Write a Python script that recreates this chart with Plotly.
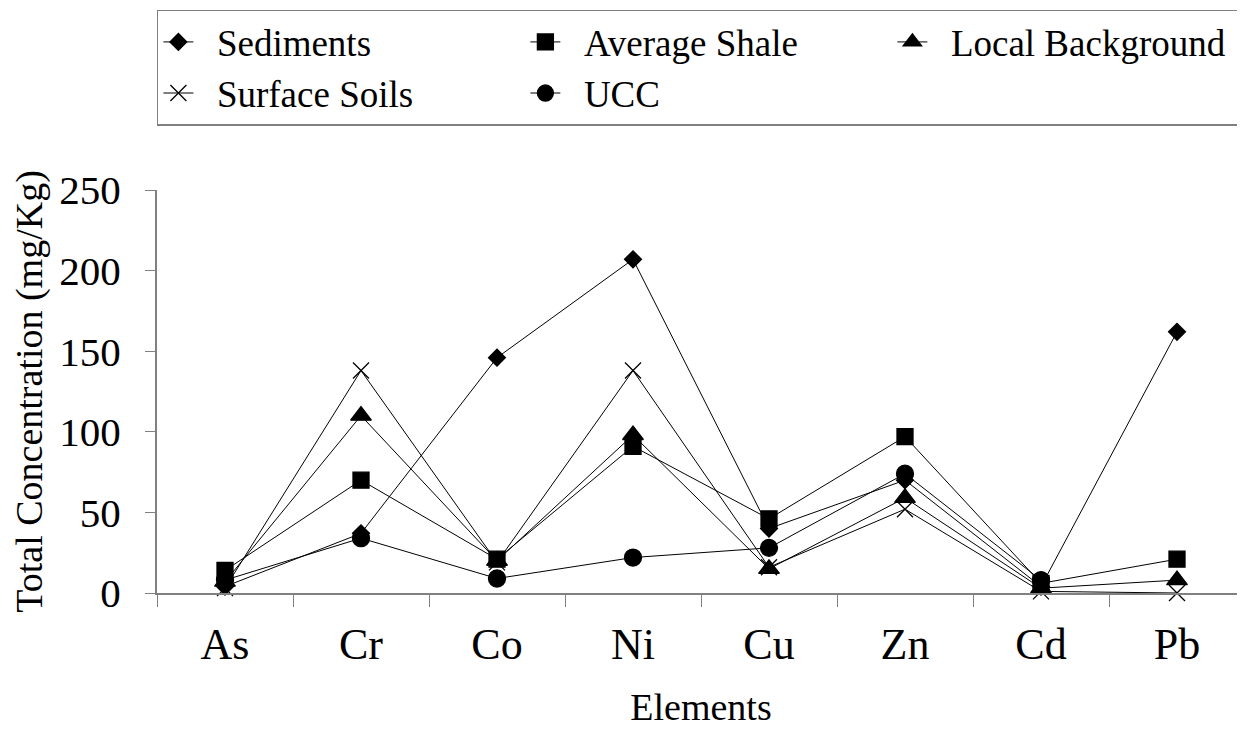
import plotly.graph_objects as go

FONT = 'Liberation Serif'
AXIS_GREY = '#808080'

elements = ['As', 'Cr', 'Co', 'Ni', 'Cu', 'Zn', 'Cd', 'Pb']

sediments = [4, 37, 146, 207, 40, 70, 4, 162]
average_shale = [14, 70, 21, 91, 46, 97, 6, 21]
local_background = [7, 110, 20, 98, 15, 59, 3, 8]
surface_soils = [3, 138, 19, 138, 16, 52, 1, 0]
ucc = [8, 34, 9, 22, 28, 74, 8, None]

series = [
    ('Sediments', sediments, 'diamond', 13),
    ('Average Shale', average_shale, 'square', 16),
    ('Local Background', local_background, 'triangle-up', 18),
    ('Surface Soils', surface_soils, 'x-thin', 16),
    ('UCC', ucc, 'circle', 17),
]

fig = go.Figure()
for name, values, symbol, size in series:
    fig.add_trace(go.Scatter(
        x=elements, y=values, name='\u2002' + name, mode='lines+markers',
        line=dict(color='black', width=1),
        marker=dict(symbol=symbol, size=size, color='black',
                    line=dict(color='black', width=1.3)),
        cliponaxis=False,
    ))

# page body has an 8px margin, so the figure is 8px smaller than the window
fig.update_layout(
    width=1237, height=723,
    paper_bgcolor='white', plot_bgcolor='white',
    margin=dict(l=149, r=0, t=182, b=138, autoexpand=False),
    font=dict(family=FONT, color='black'),
    legend=dict(
        # just left of the plot edge so the legend may run into the right margin
        orientation='h', x=-0.0001, xanchor='left', y=1.447, yanchor='top',
        font=dict(size=37, family=FONT), bordercolor=AXIS_GREY, borderwidth=1.5,
        entrywidth=322, entrywidthmode='pixels', traceorder='normal',
    ),
    xaxis=dict(
        type='category', range=[-0.5, 7.5], showgrid=False,
        showline=True, linecolor=AXIS_GREY, linewidth=2,
        ticks='outside', tickson='boundaries', ticklen=12, tickcolor=AXIS_GREY,
        tickfont=dict(size=44), ticklabelstandoff=11,
        title=dict(text='Elements', font=dict(size=38), standoff=26),
    ),
    yaxis=dict(
        range=[0, 250], dtick=50, showgrid=False, zeroline=False,
        showline=True, linecolor=AXIS_GREY, linewidth=2,
        ticks='outside', ticklen=10, tickcolor=AXIS_GREY,
        tickfont=dict(size=41), ticklabelstandoff=16,
        title=dict(text='Total Concentration (mg/Kg)', font=dict(size=38), standoff=14),
    ),
)

fig.write_html('out.html')
